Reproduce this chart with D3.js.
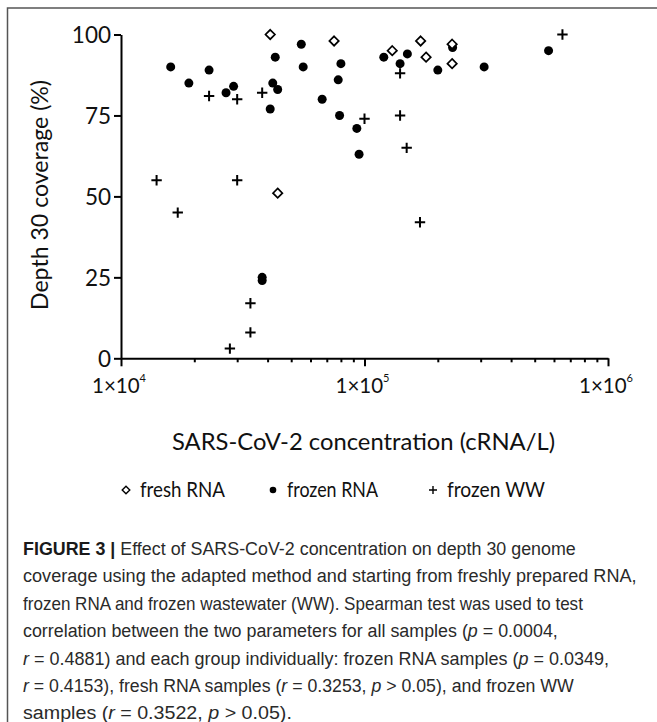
<!DOCTYPE html>
<html><head><meta charset="utf-8">
<script src="https://cdn.jsdelivr.net/npm/d3@7"></script>
<style>
html,body{margin:0;padding:0;background:#fff;}
svg{display:block;}
</style></head>
<body>
<svg id="chart" width="657" height="722"></svg>
<script>
// ---- data ----
const freshRNA_x = [4.1e4, 4.4e4, 7.5e4, 1.30e5, 1.70e5, 1.79e5, 2.29e5, 2.29e5];
const freshRNA_y = [100, 51, 98, 95, 98, 93, 97, 91];

const frozenRNA_x = [1.6e4, 1.9e4, 2.3e4, 2.7e4, 2.9e4, 3.8e4, 3.8e4, 4.1e4, 4.2e4, 4.3e4, 4.4e4,
  5.5e4, 5.6e4, 6.7e4, 7.8e4, 7.9e4, 8.0e4, 9.3e4, 9.5e4, 1.2e5, 1.4e5, 1.5e5, 2.0e5, 2.3e5, 3.1e5, 5.7e5];
const frozenRNA_y = [90, 85, 89, 82, 84, 25, 24, 77, 85, 93, 83,
  97, 90, 80, 86, 75, 91, 71, 63, 93, 91, 94, 89, 96, 90, 95];

const frozenWW_x = [1.4e4, 1.71e4, 2.3e4, 2.8e4, 3.0e4, 3.0e4, 3.4e4, 3.4e4, 3.8e4,
  1.0e5, 1.4e5, 1.4e5, 1.49e5, 1.69e5, 6.5e5];
const frozenWW_y = [55, 45, 81, 3, 80, 55, 17, 8, 82, 74, 88, 75, 65, 42, 100];

const yTicks = [0, 25, 50, 75, 100];
const xMajor = [1e4, 1e5, 1e6];
const xMajorExp = ["4", "5", "6"];
const legendLabels = ["fresh RNA", "frozen RNA", "frozen WW"];
const xTitle = "SARS-CoV-2 concentration (cRNA/L)";
const yTitle = "Depth 30 coverage (%)";

const svg = d3.select("#chart");
const FONT = "Lato, 'Open Sans', sans-serif";
const INK = "#111";

// frame
svg.append("rect").attr("x", 7.5).attr("y", 8).attr("width", 660).attr("height", 730)
  .attr("fill", "none").attr("stroke", "#555").attr("stroke-width", 1.5);

const x = d3.scaleLog().domain([1e4, 1e6]).range([121, 608]);
const y = d3.scaleLinear().domain([0, 100]).range([358.3, 34.5]);

// y axis
const yAxis = d3.axisLeft(y).tickValues(yTicks).tickSize(7).tickSizeOuter(0).tickPadding(3);
const gy = svg.append("g").attr("transform", "translate(121,0)").call(yAxis);
gy.select(".domain").attr("stroke", "#000").attr("stroke-width", 2);
gy.selectAll(".tick line").attr("stroke", "#000").attr("stroke-width", 2);
gy.selectAll(".tick text").attr("font-family", FONT).attr("font-size", 22.5).attr("fill", INK).attr("dy", "0.36em");

// x axis with minor ticks
const xTickVals = [];
for (let e = 4; e < 6; e++) for (let m = 1; m < 10; m++) xTickVals.push(m * Math.pow(10, e));
xTickVals.push(1e6);
const xAxis = d3.axisBottom(x).tickValues(xTickVals).tickSize(4).tickSizeOuter(0).tickFormat("");
const gx = svg.append("g").attr("transform", "translate(0,358.3)").call(xAxis);
gx.select(".domain").attr("stroke", "#000").attr("stroke-width", 2);
gx.selectAll(".tick line").attr("stroke", "#000").attr("stroke-width", 2)
  .attr("y2", d => xMajor.includes(d) ? 8 : 4);

// x tick labels
xMajor.forEach((v, i) => {
  const t = svg.append("text").attr("x", x(v) - 2).attr("y", 393)
    .attr("text-anchor", "middle").attr("font-family", FONT).attr("font-size", 20.5).attr("fill", INK);
  t.append("tspan").text("1×10");
  t.append("tspan").attr("dy", -11).attr("font-size", 11).text(xMajorExp[i]);
});

// titles
svg.append("text").attr("x", 363.5).attr("y", 450).attr("text-anchor", "middle")
  .attr("font-family", FONT).attr("font-size", 23.5).attr("fill", INK)
  .attr("textLength", 383).attr("lengthAdjust", "spacingAndGlyphs").text(xTitle);
svg.append("text").attr("transform", "translate(48,195) rotate(-90)").attr("text-anchor", "middle")
  .attr("font-family", FONT).attr("font-size", 23.5).attr("fill", INK)
  .attr("textLength", 230).attr("lengthAdjust", "spacingAndGlyphs").text(yTitle);

// markers
const diamond = (s) => `M0,${-s}L${s},0L0,${s}L${-s},0Z`;
const plus = (s) => `M${-s},0H${s}M0,${-s}V${s}`;

svg.append("g").selectAll("circle").data(frozenRNA_x.map((d, i) => [d, frozenRNA_y[i]])).join("circle")
  .attr("cx", d => x(d[0])).attr("cy", d => y(d[1])).attr("r", 4.5).attr("fill", "#000");

svg.append("g").selectAll("path").data(freshRNA_x.map((d, i) => [d, freshRNA_y[i]])).join("path")
  .attr("transform", d => `translate(${x(d[0])},${y(d[1])})`).attr("d", diamond(4.7))
  .attr("fill", "#fff").attr("stroke", "#000").attr("stroke-width", 1.7);

svg.append("g").selectAll("path").data(frozenWW_x.map((d, i) => [d, frozenWW_y[i]])).join("path")
  .attr("transform", d => `translate(${x(d[0])},${y(d[1])})`).attr("d", plus(5.2))
  .attr("fill", "none").attr("stroke", "#000").attr("stroke-width", 2);

// legend
const legX = [126, 273, 433];
const legW = [85, 91, 98];
const legY = 490;
const lg = svg.append("g");
lg.append("path").attr("transform", `translate(${legX[0]},${legY})`).attr("d", diamond(3.8))
  .attr("fill", "#fff").attr("stroke", "#000").attr("stroke-width", 1.4);
lg.append("circle").attr("cx", legX[1]).attr("cy", legY).attr("r", 3.3).attr("fill", "#000");
lg.append("path").attr("transform", `translate(${legX[2]},${legY})`).attr("d", plus(4))
  .attr("fill", "none").attr("stroke", "#000").attr("stroke-width", 1.4);
legendLabels.forEach((l, i) => {
  lg.append("text").attr("x", legX[i] + 14).attr("y", legY + 7).attr("font-family", FONT)
    .attr("font-size", 21).attr("fill", INK)
    .attr("textLength", legW[i]).attr("lengthAdjust", "spacingAndGlyphs").text(l);
});

// caption
const CF = "'Liberation Sans Narrow', 'Liberation Sans', Arial, sans-serif";
const capLines = [
  { w: 553, parts: [["FIGURE 3 | ", "b"], ["Effect of SARS-CoV-2 concentration on depth 30 genome", ""]] },
  { w: 614, parts: [["coverage using the adapted method and starting from freshly prepared RNA,", ""]] },
  { w: 560, parts: [["frozen RNA and frozen wastewater (WW). Spearman test was used to test", ""]] },
  { w: 535, parts: [["correlation between the two parameters for all samples (", ""], ["p", "i"], [" = 0.0004,", ""]] },
  { w: 586, parts: [["r", "i"], [" = 0.4881) and each group individually: frozen RNA samples (", ""], ["p", "i"], [" = 0.0349,", ""]] },
  { w: 551, parts: [["r", "i"], [" = 0.4153), fresh RNA samples (", ""], ["r", "i"], [" = 0.3253, ", ""], ["p", "i"], [" > 0.05), and frozen WW", ""]] },
  { w: 269, parts: [["samples (", ""], ["r", "i"], [" = 0.3522, ", ""], ["p", "i"], [" > 0.05).", ""]] }
];
const cg = svg.append("g");
capLines.forEach((ln, i) => {
  const t = cg.append("text").attr("x", 0).attr("y", 0)
    .attr("font-family", CF).attr("font-size", 19).attr("fill", "#2a2a2a");
  ln.parts.forEach(p => {
    const ts = t.append("tspan").text(p[0]);
    if (p[1] === "b") ts.attr("font-weight", "bold").attr("fill", "#1a1a1a");
    if (p[1] === "i") ts.attr("font-style", "italic");
  });
  const w0 = t.node().getComputedTextLength();
  const s = w0 > 0 ? ln.w / w0 : 1;
  t.attr("transform", `translate(23,${555 + 27.4 * i}) scale(${s},1)`);
});
</script>
</body></html>
